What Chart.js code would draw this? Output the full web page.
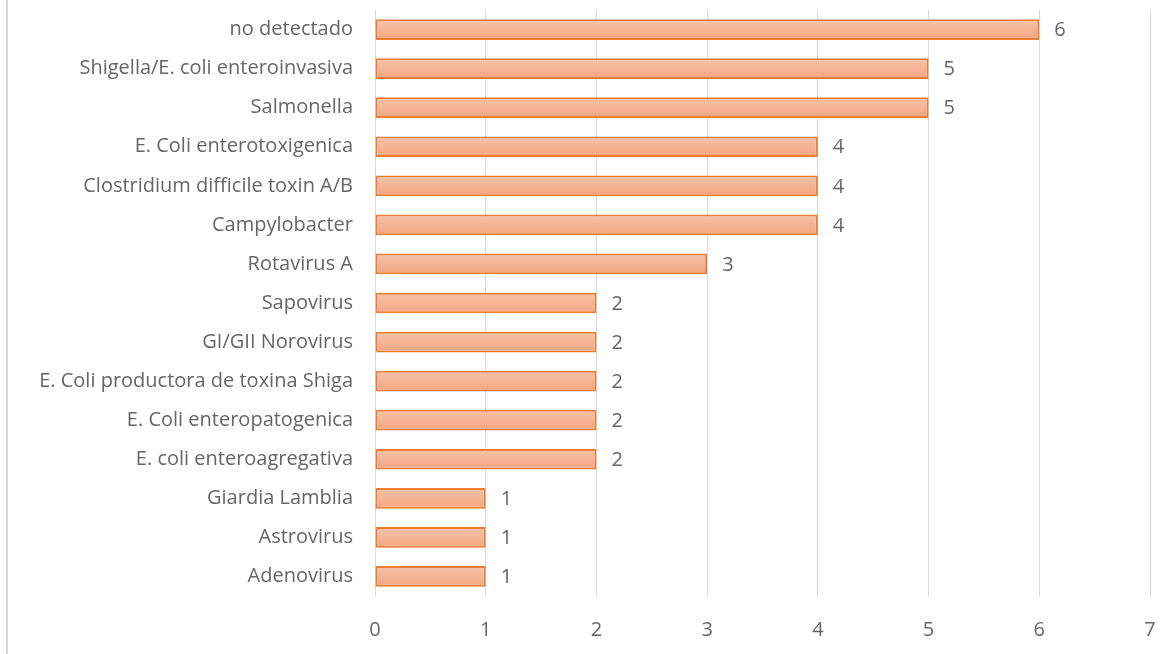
<!DOCTYPE html>
<html>
<head>
<meta charset="utf-8">
<script src="https://cdn.jsdelivr.net/npm/chart.js@4.4.1/dist/chart.umd.min.js"></script>
<style>
  html, body { margin: 0; padding: 0; background: #fff; }
  #wrap { position: relative; width: 1175px; height: 654px; }
  #wrap::before { content: ""; position: absolute; left: 6px; top: 0; bottom: 0; width: 2px; background: #d9d9d9; }
  canvas { display: block; }
</style>
</head>
<body>
<div id="wrap"><canvas id="c" width="1175" height="654"></canvas></div>
<script>
// Pathogens detected, and count of cases for each
const categories = [
  "no detectado",
  "Shigella/E. coli enteroinvasiva",
  "Salmonella",
  "E. Coli enterotoxigenica",
  "Clostridium difficile toxin A/B",
  "Campylobacter",
  "Rotavirus A",
  "Sapovirus",
  "GI/GII Norovirus",
  "E. Coli productora de toxina Shiga",
  "E. Coli enteropatogenica",
  "E. coli enteroagregativa",
  "Giardia Lamblia",
  "Astrovirus",
  "Adenovirus"
];
const counts = [6, 5, 5, 4, 4, 4, 3, 2, 2, 2, 2, 2, 1, 1, 1];
const xTicks = [0, 1, 2, 3, 4, 5, 6, 7];

const FONT = "'Open Sans', Lato, sans-serif";
const SIZE = 20;
const TEXT = "#666666";

// Vertical gradient per bar, light peach on top to deeper salmon below
function barFill(ctx) {
  const chart = ctx.chart;
  const ys = chart.scales && chart.scales.y;
  if (!ys || ctx.dataIndex === undefined) return "#f5b393";
  const cy = ys.getPixelForValue(ctx.dataIndex);
  if (!Number.isFinite(cy)) return "#f5b393";
  const g = chart.ctx.createLinearGradient(0, cy - 10, 0, cy + 10);
  g.addColorStop(0, "#f7c3a8");
  g.addColorStop(1, "#f3a683");
  return g;
}

// Value written just past the end of each bar
const valueLabels = {
  id: "valueLabels",
  afterDatasetsDraw(chart) {
    const { ctx } = chart;
    const meta = chart.getDatasetMeta(0);
    ctx.save();
    ctx.font = SIZE + "px " + FONT;
    ctx.fillStyle = TEXT;
    ctx.textAlign = "left";
    ctx.textBaseline = "middle";
    meta.data.forEach((bar, i) => {
      ctx.fillText(String(counts[i]), bar.x + 15, bar.y + 1);
    });
    ctx.restore();
  }
};

new Chart(document.getElementById("c"), {
  type: "bar",
  data: {
    labels: categories,
    datasets: [{
      data: counts,
      backgroundColor: barFill,
      borderColor: "#ed7d31",
      borderWidth: 2,
      borderSkipped: false,
      categoryPercentage: 1,
      barPercentage: 0.53
    }]
  },
  options: {
    indexAxis: "y",
    responsive: false,
    animation: false,
    layout: { padding: { left: 0, right: 25, top: 10, bottom: 0 } },
    plugins: { legend: { display: false }, tooltip: { enabled: false } },
    scales: {
      x: {
        min: 0,
        max: 7,
        afterBuildTicks(scale) { scale.ticks = xTicks.map(v => ({ value: v })); },
        afterFit(scale) { scale.height = 58; scale.paddingLeft = 0; scale.paddingRight = 0; },
        grid: { color: "#d9d9d9", lineWidth: 1, drawTicks: false },
        border: { display: false },
        ticks: { color: TEXT, font: { family: FONT, size: SIZE }, padding: 22 }
      },
      y: {
        afterFit(scale) { scale.width = 375; scale.paddingTop = 0; scale.paddingBottom = 0; },
        grid: { display: false, drawTicks: false },
        border: { display: false },
        ticks: { color: TEXT, font: { family: FONT, size: SIZE }, padding: 22, autoSkip: false }
      }
    }
  },
  plugins: [valueLabels]
});
</script>
</body>
</html>
